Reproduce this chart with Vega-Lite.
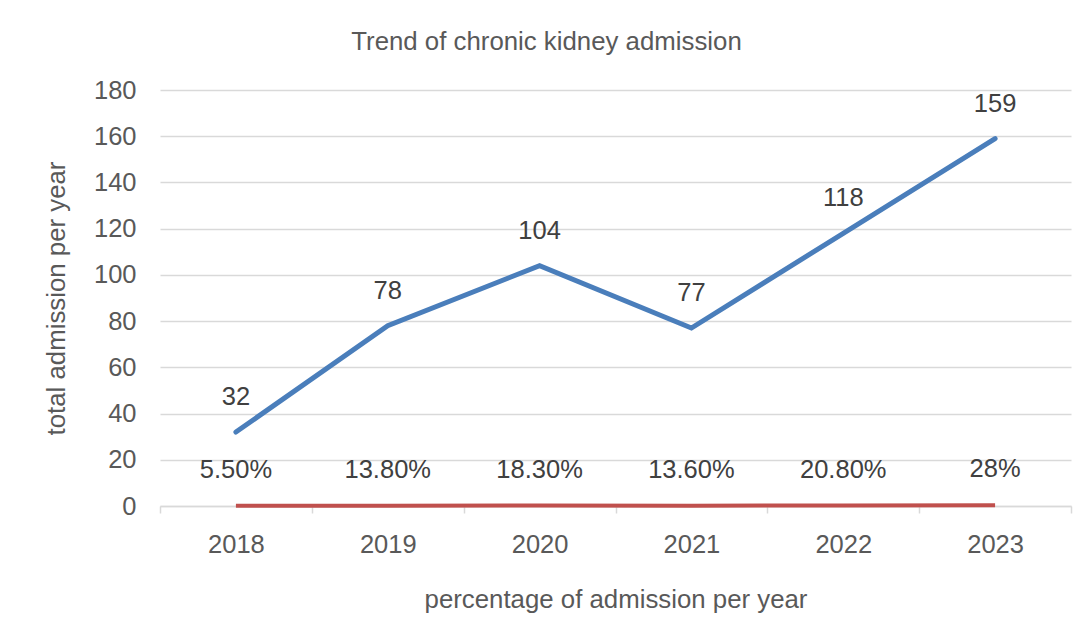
{
  "$schema": "https://vega.github.io/schema/vega-lite/v6.json",
  "width": 911,
  "height": 416,
  "autosize": "none",
  "padding": {"left": 160, "top": 90, "right": 21, "bottom": 134},
  "background": "white",
  "config": {
    "view": {"stroke": null},
    "font": "Liberation Sans"
  },
  "title": {
    "text": "Trend of chronic kidney admission",
    "fontSize": 25.8,
    "fontWeight": "normal",
    "color": "#595959",
    "anchor": "middle",
    "dx": -69,
    "offset": 22
  },
  "data": {
    "values": [
      {"year": "2018", "total": 32, "pct": 0.055, "pct_label": "5.50%"},
      {"year": "2019", "total": 78, "pct": 0.138, "pct_label": "13.80%"},
      {"year": "2020", "total": 104, "pct": 0.183, "pct_label": "18.30%"},
      {"year": "2021", "total": 77, "pct": 0.136, "pct_label": "13.60%"},
      {"year": "2022", "total": 118, "pct": 0.208, "pct_label": "20.80%"},
      {"year": "2023", "total": 159, "pct": 0.28, "pct_label": "28%"}
    ]
  },
  "encoding": {
    "x": {
      "field": "year",
      "type": "ordinal",
      "bandPosition": 0.5,
      "scale": {"type": "band", "paddingInner": 0, "paddingOuter": 0},
      "axis": {
        "title": "percentage of admission per year",
        "titleFontSize": 25.8,
        "titleFontWeight": "normal",
        "titleColor": "#595959",
        "titlePadding": 30,
        "labelFontSize": 25.5,
        "labelColor": "#595959",
        "labelPadding": 19,
        "labelAngle": 0,
        "tickBand": "extent",
        "tickSize": 7,
        "tickColor": "#D9D9D9",
        "tickWidth": 1.5,
        "domainColor": "#D9D9D9",
        "domainWidth": 1.5,
        "grid": false
      }
    }
  },
  "layer": [
    {
      "mark": {"type": "line", "color": "#4A7EBB", "strokeWidth": 5, "strokeCap": "round"},
      "encoding": {
        "y": {
          "field": "total",
          "type": "quantitative",
          "scale": {"domain": [0, 180], "nice": false},
          "axis": {
            "title": "total admission per year",
            "titleFontSize": 25.8,
            "titleFontWeight": "normal",
            "titleColor": "#595959",
            "titlePadding": 24,
            "labelFontSize": 25.5,
            "labelColor": "#595959",
            "labelPadding": 24,
            "values": [0, 20, 40, 60, 80, 100, 120, 140, 160, 180],
            "ticks": false,
            "domain": false,
            "grid": true,
            "gridColor": "#D9D9D9",
            "gridWidth": 1.5
          }
        }
      }
    },
    {
      "mark": {"type": "text", "fontSize": 25.5, "color": "#404040", "dy": -35, "baseline": "middle"},
      "encoding": {
        "y": {"field": "total", "type": "quantitative"},
        "text": {"field": "total", "type": "quantitative"}
      }
    },
    {
      "mark": {"type": "line", "color": "#C0504D", "strokeWidth": 4},
      "encoding": {
        "y": {"field": "pct", "type": "quantitative"}
      }
    },
    {
      "mark": {"type": "text", "fontSize": 25.5, "color": "#404040", "dy": -36, "baseline": "middle"},
      "encoding": {
        "y": {"field": "pct", "type": "quantitative"},
        "text": {"field": "pct_label", "type": "nominal"}
      }
    }
  ]
}
